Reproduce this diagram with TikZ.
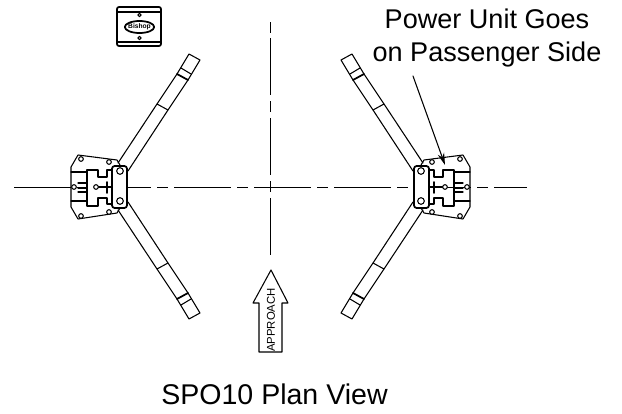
\documentclass[tikz,border=0pt]{standalone}
\usepackage{fontspec}
\setmainfont{Liberation Sans}
\usetikzlibrary{arrows.meta}
\tikzset{
	liftline/.style={line width=.8pt},
	heavyline/.style={line width=1.3pt},
	centerline/.style={line width=.7pt, line cap=butt, dash pattern=on 42.75pt off 4.5pt on 8.25pt off 4.5pt},
	pinhole/.style={circle, draw, line width=.8pt, fill=white, inner sep=0pt, minimum size=4pt},
	plainlabel/.style={font=\fontsize{20.3}{24.75}\selectfont, align=center}
}
\newcommand{\halflift}{%
	% base plate
	\draw[liftline] (78,155)--(117,160)--(120,165) (78,155)--(71,167)--(71,207)--(78,219)--(117,213)--(120,208);
	\draw[liftline] (71,172)--(87,172) (71,201)--(87,201);
	\foreach \p in {(81,159),(109,162),(81,216),(109,212),(74,187)}\node[pinhole, minimum size=3.5pt] at \p {};
	% carriage
	\draw[heavyline] (113,170)--(107,170)--(107,177)--(98,177)--(98,170)--(87,170)--(87,206)--(98,206)--(98,198)--(107,198)--(107,204)--(113,204);
	\draw[liftline] (78,183)--(87,183) (78,188)--(87,188) (78,192)--(87,192);
	\draw[liftline] (96,187)--(112,187);
	\draw[heavyline] (107,182)--(107,193);
	\node[pinhole, minimum size=3.5pt] at (96,187) {};
	% arms
	\foreach \s/\o in {1/0,-1/373}{
		\draw[liftline] (118,{\o+\s*210})--(157,{\o+\s*269})--(168,{\o+\s*263})--(128,{\o+\s*202});
		\draw[liftline] (157,{\o+\s*269})--(177,{\o+\s*299}) (168,{\o+\s*263})--(188,{\o+\s*293});
		\draw[heavyline] (177,{\o+\s*299})--(188,{\o+\s*293});
		\draw[liftline] (177,{\o+\s*299})--(189,{\o+\s*319})--(200,{\o+\s*313})--(188,{\o+\s*293});
		\draw[liftline] (181,{\o+\s*305})--(191,{\o+\s*299});
	}
	% post plate
	\draw[heavyline, rounded corners=2pt, fill=white] (112,166) rectangle (127,208);
	\node[pinhole, minimum size=5pt] at (120,171) {};
	\node[pinhole, minimum size=5pt] at (120,201) {};
}
\begin{document}
\begin{tikzpicture}[x=.75pt, y=-.75pt, line join=round, line cap=round, >=stealth]
	\useasboundingbox (0,0) rectangle (622,414);
	% center lines
	\coordinate (westend) at (14,187);
	\coordinate (eastend) at (527,187);
	\coordinate (northend) at (270.5,38);
	\coordinate (southend) at (270.5,256);
	\draw[centerline] (westend)--(eastend);
	\draw[centerline] (northend)--(southend);
	\draw[centerline] (270.5,22)--(270.5,33);
	% lifts
	\begin{scope}\halflift\end{scope}
	\begin{scope}[xshift=405.75pt, xscale=-1]\halflift\end{scope}
	% control box
	\draw[heavyline, rounded corners=1.5pt] (117,7) rectangle (161,46);
	\draw[liftline] (117,12)--(161,12) (117,42)--(161,42);
	\draw[heavyline] (139.5,27) ellipse (11pt and 4.5pt);
	\node[font=\fontsize{5}{5}\selectfont\bfseries] (logotext) at (139.5,27) {Bishop};
	\node[pinhole, minimum size=2.5pt] (boxtop) at (139.5,15) {};
	\node[pinhole, minimum size=2.5pt] (boxbot) at (139.5,38) {};
	% approach arrow
	\draw[liftline] (259,352)--(259,303)--(253,303)--(271,270)--(288,303)--(282,303)--(282,352)--cycle;
	\node[rotate=90, font=\fontsize{8.5}{10}\selectfont] (approach) at (271,320) {APPROACH};
	% labels
	\node[plainlabel] (powerunit) at (487,38.5) {Power Unit Goes\\on Passenger Side};
	\coordinate (unitfoot) at (413,76);
	\coordinate (unittip) at (445,165);
	\draw[-{Stealth[length=9pt,width=5pt]}, liftline] (unitfoot)--(unittip);
	\node[plainlabel, font=\fontsize{21.4}{25}\selectfont] (caption) at (274.5,394) {SPO10 Plan View};
\end{tikzpicture}
\end{document}
